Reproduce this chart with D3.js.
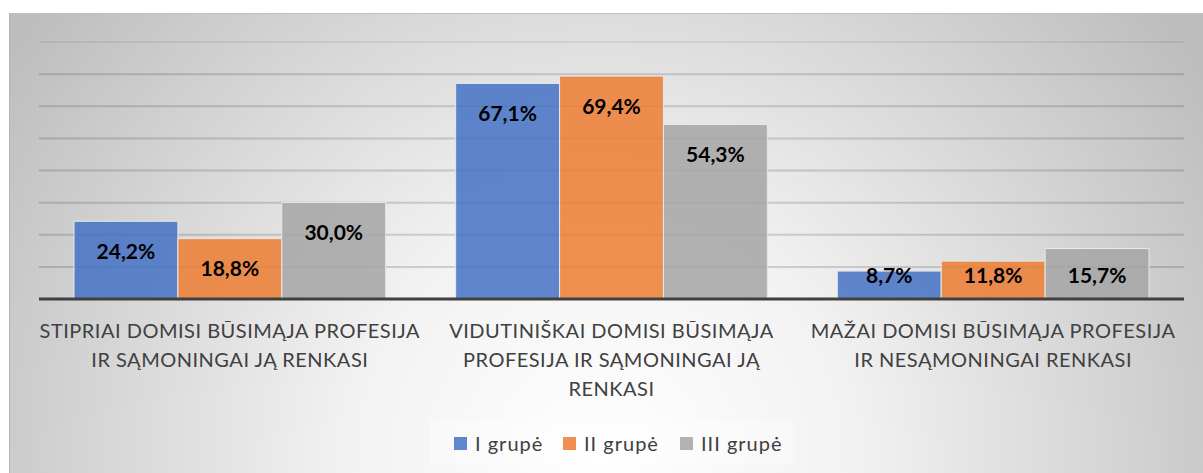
<!DOCTYPE html>
<html>
<head>
<meta charset="utf-8">
<script src="https://cdn.jsdelivr.net/npm/d3@7"></script>
<style>
  body { margin: 0; background: #fff; }
  text { font-family: Lato, "Open Sans", sans-serif; }
</style>
</head>
<body>
<script>
// chart data
var categoryLines = [
  ["STIPRIAI DOMISI BŪSIMĄJA PROFESIJA", "IR SĄMONINGAI JĄ RENKASI"],
  ["VIDUTINIŠKAI DOMISI BŪSIMĄJA", "PROFESIJA IR SĄMONINGAI JĄ", "RENKASI"],
  ["MAŽAI DOMISI BŪSIMĄJA PROFESIJA", "IR NESĄMONINGAI RENKASI"]
];
var seriesNames = ["I grupė", "II grupė", "III grupė"];
var grupeI = [24.2, 67.1, 8.7];
var grupeII = [18.8, 69.4, 11.8];
var grupeIII = [30.0, 54.3, 15.7];
var yTicks = [0, 10, 20, 30, 40, 50, 60, 70, 80];

var seriesValues = [grupeI, grupeII, grupeIII];
var colors = ["#4472C4", "#ED7D31", "#A5A5A5"];

var svgWidth = 1203;
var svgHeight = 473;
var margin = { top: 42, right: 19, bottom: 174, left: 39 };
var width = svgWidth - margin.left - margin.right;
var height = svgHeight - margin.top - margin.bottom;

var svg = d3.select("body").append("svg").attr("width", svgWidth).attr("height", svgHeight);

// background gradient
var defs = svg.append("defs");
var grad = defs.append("radialGradient")
  .attr("id", "bg")
  .attr("gradientUnits", "userSpaceOnUse")
  .attr("cx", 600).attr("cy", 460).attr("r", 720);
grad.append("stop").attr("offset", "0").attr("stop-color", "#ffffff");
grad.append("stop").attr("offset", "0.35").attr("stop-color", "#f2f2f2");
grad.append("stop").attr("offset", "1").attr("stop-color", "#bdbdbd");

svg.append("rect")
  .attr("x", 9).attr("y", 13)
  .attr("width", svgWidth - 9).attr("height", svgHeight - 13)
  .attr("fill", "url(#bg)");
svg.append("line").attr("x1", 9).attr("x2", svgWidth).attr("y1", 13.5).attr("y2", 13.5)
  .attr("stroke", "#bfbfbf").attr("stroke-width", 1);
svg.append("line").attr("x1", 9.5).attr("x2", 9.5).attr("y1", 13).attr("y2", svgHeight)
  .attr("stroke", "#b5b5b5").attr("stroke-width", 1);

var chartGroup = svg.append("g").attr("transform", `translate(${margin.left}, ${margin.top})`);

// scales
var x0 = d3.scaleBand().domain(d3.range(categoryLines.length)).range([0, width]).padding(0);
var groupGap = 35;
var x1 = d3.scaleBand().domain(d3.range(seriesNames.length))
  .range([groupGap, x0.bandwidth() - groupGap]).padding(0);
var y = d3.scaleLinear().domain([0, 80]).range([height, 0]);

// gridlines
chartGroup.selectAll(".grid")
  .data(yTicks.filter(d => d > 0))
  .enter()
  .append("line")
  .attr("x1", 0).attr("x2", width)
  .attr("y1", d => y(d)).attr("y2", d => y(d))
  .attr("stroke", "#000")
  .attr("stroke-opacity", d => d === 80 ? 0.06 : 0.15)
  .attr("stroke-width", 2);

// bars
var groups = chartGroup.selectAll(".cat")
  .data(categoryLines)
  .enter()
  .append("g")
  .attr("transform", (d, i) => `translate(${x0(i)}, 0)`);

groups.each(function(c, ci) {
  var g = d3.select(this);
  seriesValues.forEach(function(vals, si) {
    g.append("rect")
      .attr("x", x1(si))
      .attr("y", y(vals[ci]))
      .attr("width", x1.bandwidth())
      .attr("height", y(0) - y(vals[ci]))
      .attr("fill", colors[si])
      .attr("fill-opacity", 0.85)
      .attr("stroke", "#e8e8e8")
      .attr("stroke-width", 1);
  });
  seriesValues.forEach(function(vals, si) {
    g.append("text")
      .attr("x", x1(si) + x1.bandwidth() / 2)
      .attr("y", Math.min(y(vals[ci]) + 29, y(0) - 25))
      .attr("text-anchor", "middle")
      .attr("dominant-baseline", "central")
      .attr("font-size", "21px")
      .attr("font-weight", "bold")
      .attr("fill", "#000")
      .text(d3.format(".1f")(vals[ci]).replace(".", ",") + "%");
  });
});

// baseline
chartGroup.append("line")
  .attr("x1", 0).attr("x2", width)
  .attr("y1", y(0)).attr("y2", y(0))
  .attr("stroke", "#404040").attr("stroke-width", 3);

// category labels
groups.each(function(lines) {
  var t = d3.select(this).append("text")
    .attr("text-anchor", "middle")
    .attr("font-size", "20px")
    .attr("letter-spacing", "0.5px")
    .attr("fill", "#404040");
  lines.forEach(function(line, li) {
    t.append("tspan")
      .attr("x", x0.bandwidth() / 2)
      .attr("y", height + 39 + li * 29)
      .text(line);
  });
});

// legend
var legend = svg.append("g").attr("transform", "translate(430, 420)");
legend.append("rect").attr("width", 363).attr("height", 45)
  .attr("fill", "#fff").attr("fill-opacity", 0.3);
var legendX = [24, 133, 250];
seriesNames.forEach(function(name, i) {
  legend.append("rect")
    .attr("x", legendX[i]).attr("y", 17)
    .attr("width", 13).attr("height", 13)
    .attr("fill", colors[i]).attr("fill-opacity", 0.85);
  legend.append("text")
    .attr("x", legendX[i] + 21).attr("y", 23)
    .attr("dominant-baseline", "central")
    .attr("font-size", "20px")
    .attr("letter-spacing", "1px")
    .attr("fill", "#404040")
    .text(name);
});
</script>
</body>
</html>
